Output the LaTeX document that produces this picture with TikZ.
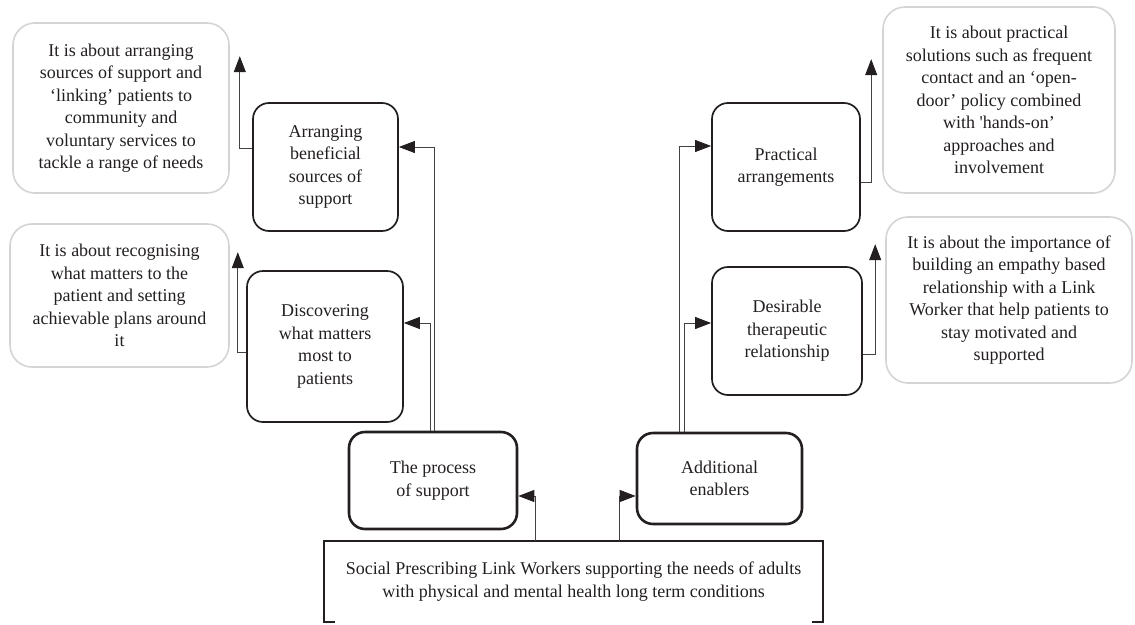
\documentclass[tikz,border=0pt]{standalone}
\usepackage{fontspec}
\setmainfont{Liberation Serif}
\usetikzlibrary{arrows.meta}
\definecolor{txt}{HTML}{231F20}
\definecolor{gbord}{HTML}{D4D4D4}
\tikzset{
  every node/.style={text=txt, align=center, inner sep=0pt, font=\fontsize{18}{22.5}\selectfont},
  greybox/.style={draw=gbord, line width=1.6pt, rounded corners=22pt},
  blackbox/.style={draw=txt, line width=1.7pt, rounded corners=16pt},
  mainbox/.style={draw=txt, line width=2.6pt, rounded corners=16pt},
  conn/.style={draw=txt!85, line width=0.9pt, -{Triangle[length=16pt,width=12pt,color=txt,fill=txt]}},
}
\begin{document}
\begin{tikzpicture}[x=1pt,y=-1pt]
\useasboundingbox (0,0) rectangle (1135,624);
% grey description boxes
\node[greybox, minimum width=216pt, minimum height=170pt] (g1) at (121,108)
  {It is about arranging\\sources of support and\\‘linking’ patients to\\community and\\voluntary services to\\tackle a range of needs};
\node[greybox, minimum width=219pt, minimum height=143pt] (g2) at (119.5,295.5)
  {It is about recognising\\what matters to the\\patient and setting\\achievable plans around\\it};
\node[greybox, minimum width=232pt, minimum height=186pt] (g3) at (999,100)
  {It is about practical\\solutions such as frequent\\contact and an ‘open-\\door’ policy combined\\with \textquotesingle hands-on’\\approaches and\\involvement};
\node[greybox, minimum width=246pt, minimum height=166pt] (g4) at (1009,300)
  {It is about the importance of\\building an empathy based\\relationship with a Link\\Worker that help patients to\\stay motivated and\\supported};
% black boxes
\node[blackbox, minimum width=145pt, minimum height=128pt] (b1) at (325.5,167)
  {Arranging\\beneficial\\sources of\\support};
\node[blackbox, minimum width=156pt, minimum height=151pt] (b2) at (325,346.5)
  {Discovering\\what matters\\most to\\patients};
\node[mainbox, minimum width=168pt, minimum height=97pt] (b3) at (433,480.5)
  {The process\\of support};
\node[mainbox, minimum width=165pt, minimum height=91pt] (b4) at (719.5,478.5)
  {Additional\\enablers};
\node[blackbox, minimum width=148pt, minimum height=128pt] (b5) at (786,167)
  {Practical\\arrangements};
\node[blackbox, minimum width=150pt, minimum height=128pt] (b6) at (787,331)
  {Desirable\\therapeutic\\relationship};
% root box
\node[minimum width=499pt, minimum height=81pt] (root) at (573.5,581.5)
  {Social Prescribing Link Workers supporting the needs of adults\\with physical and mental health long term conditions};
\draw[txt, line width=1.6pt] ([xshift=11pt]root.south west) -- (root.south west) -- (root.north west)
  -- (root.north east) -- (root.south east) -- ([xshift=-11pt]root.south east);
% connectors
\draw[conn] ([xshift=-38.5pt]root.north) |- ([yshift=-15.5pt]b3.east);
\draw[conn] ([xshift=45.5pt]root.north) |- ([yshift=-17.5pt]b4.west);
\draw[conn] ([xshift=-3pt]b3.north) |- ([yshift=23.5pt]b2.east);
\draw[conn] ([xshift=1pt]b3.north) |- ([yshift=20pt]b1.east);
\draw[conn] ([xshift=-40.5pt]b4.north) |- ([yshift=21pt]b5.west);
\draw[conn] ([xshift=-35.5pt]b4.north) |- ([yshift=8pt]b6.west);
\draw[conn] ([yshift=19pt]b1.west) -| ([xshift=10pt,yshift=-34pt]g1.north east);
\draw[conn] ([yshift=-5.5pt]b2.west) -| ([xshift=8pt,yshift=-29pt]g2.north east);
\draw[conn] ([yshift=-15pt]b5.east) -| ([xshift=-11pt,yshift=-53pt]g3.north west);
\draw[conn] ([yshift=-23pt]b6.east) -| ([xshift=-10pt,yshift=-28pt]g4.north west);
\end{tikzpicture}
\end{document}
